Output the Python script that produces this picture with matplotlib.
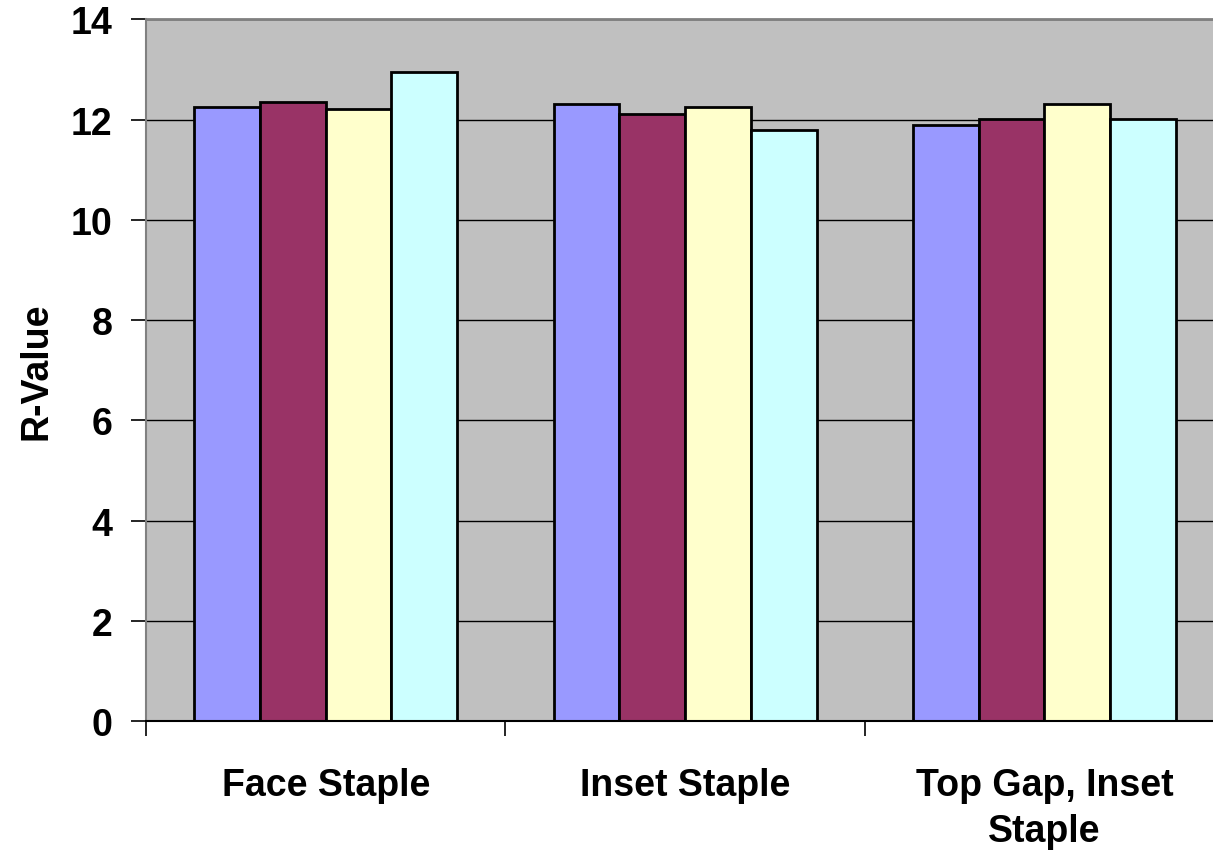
import numpy as np
import matplotlib
matplotlib.use('Agg')
import matplotlib.pyplot as plt

# data
categories = ['Face Staple', 'Inset Staple', 'Top Gap, Inset\nStaple']
series_1 = [12.26, 12.31, 11.89]
series_2 = [12.35, 12.12, 12.02]
series_3 = [12.22, 12.26, 12.31]
series_4 = [12.96, 11.80, 12.02]
colors = ['#9999FF', '#993366', '#FFFFCC', '#CCFFFF']
y_ticks = [0, 2, 4, 6, 8, 10, 12, 14]

plt.rcParams['font.family'] = ['Liberation Sans', 'DejaVu Sans']

fig = plt.figure(figsize=(12.13, 8.54), dpi=100)
# axes run past the right edge, as in the cropped reference
ax = fig.add_axes([0.1204, 0.1546, 0.8887, 0.8214])
ax.set_facecolor('#C0C0C0')

x = np.arange(len(categories))
w = 0.183
allseries = [series_1, series_2, series_3, series_4]
for i, s in enumerate(allseries):
	ax.bar(x + (i - 1.5) * w, s, width=w, color=colors[i], edgecolor='black', linewidth=2.0, zorder=3)

ax.set_xlim(-0.5, len(categories) - 0.5)
ax.set_ylim(0, 14)
ax.set_yticks(y_ticks)
ax.yaxis.grid(True, color='black', linewidth=1.0, zorder=1)

# ticks at category boundaries, labels at centers
ax.set_xticks(np.arange(len(categories) + 1) - 0.5)
ax.set_xticklabels([])
ax.set_xticks(x, minor=True)
ax.set_xticklabels(categories, minor=True, fontsize=27, fontweight='bold', linespacing=1.35)
ax.tick_params(axis='x', which='major', length=11, width=1.2, direction='out')
ax.tick_params(axis='x', which='minor', length=0, pad=33)
ax.tick_params(axis='y', length=11, width=1.2, direction='out', pad=13, labelsize=27)
for lab in ax.get_yticklabels():
	lab.set_fontweight('bold')

ax.set_ylabel('R-Value', fontsize=27, fontweight='bold', labelpad=12)

ax.spines['top'].set_color('#808080')
ax.spines['top'].set_linewidth(2)
ax.spines['left'].set_color('#808080')
ax.spines['left'].set_linewidth(1.5)
ax.spines['right'].set_visible(False)
ax.spines['bottom'].set_color('black')
ax.spines['bottom'].set_linewidth(1.5)
ax.spines['bottom'].set_zorder(4)

fig.savefig('out.png', dpi=100)
